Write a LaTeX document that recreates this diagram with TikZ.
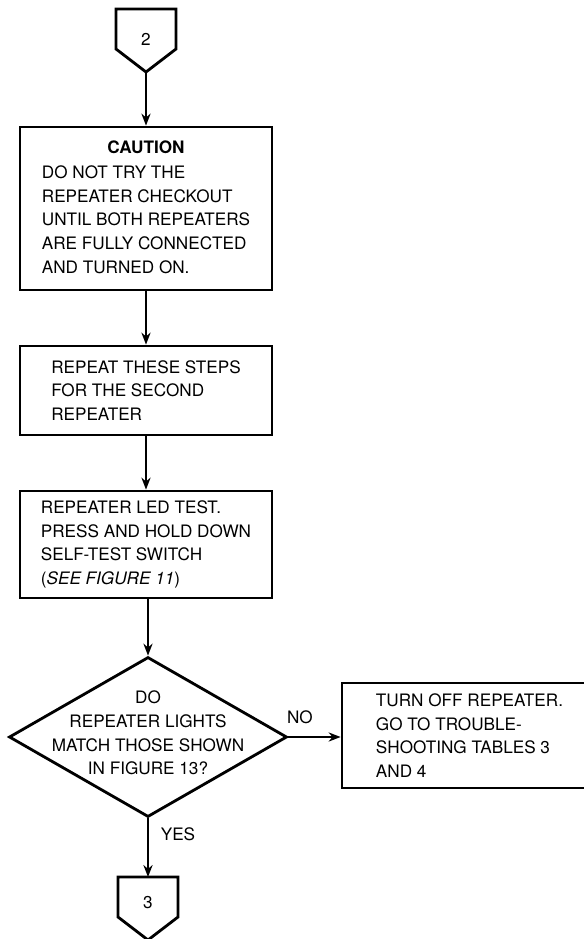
\documentclass[tikz,border=0pt]{standalone}
\usepackage{fontspec}
\setmainfont{TeX Gyre Heros}
\usetikzlibrary{arrows.meta,shapes.geometric}

\begin{document}
\begin{tikzpicture}[
            every node/.style={font=\fontsize{12.2}{16.85}\selectfont},
            box/.style={draw, line width=2pt, minimum width=6.3cm,
                    align=left, inner sep=0pt},
            decision/.style={draw, diamond, line width=2pt, minimum width=6.95cm,
                    minimum height=4cm, inner sep=0pt},
            conn/.style={line width=2pt, line join=miter},
            flow/.style={-{Stealth[length=3mm,width=2.3mm]}, line width=1.2pt},
            lab/.style={align=center, inner sep=0pt}
        ]
        \def\cx{3.65}
        \def\dx{3.7}
        \useasboundingbox (0,0) rectangle (14.575,-23.475);

        % off-page connector in
        \node[lab] (start) at (\cx,-0.975) {2};
        \draw[conn] (2.9,-0.225) -- (2.9,-1.225) -- (\cx,-1.8) -- (4.4,-1.225) -- (4.4,-0.225) -- cycle;
        \coordinate (startend) at (\cx,-1.8);

        \node[box, minimum height=4.075cm] (caution) at (\cx,-5.2125) {%
            \begin{tabular}{@{}l@{}}
                \multicolumn{1}{@{}c@{}}{\bfseries CAUTION}\\[1pt]
                DO NOT TRY THE\\
                REPEATER CHECKOUT\\
                UNTIL BOTH REPEATERS\\
                ARE FULLY CONNECTED\\
                AND TURNED ON.
            \end{tabular}};
        \node[box, minimum height=2.225cm] (again) at (\cx,-9.7625)
            {REPEAT THESE STEPS\\FOR THE SECOND\\REPEATER};
        \node[box, minimum height=2.675cm] (ledtest) at (\cx,-13.6125)
            {REPEATER LED TEST.\\PRESS AND HOLD DOWN\\SELF-TEST SWITCH\\(\textit{SEE FIGURE 11})};

        \node[decision] (match) at (\dx,-18.425) {};
        \node[lab] (matchtext) at (\dx,-18.325)
            {DO\\REPEATER LIGHTS\\MATCH THOSE SHOWN\\IN FIGURE 13?};
        \node[box, minimum width=6.375cm, minimum height=2.625cm] (turnoff) at (11.7375,-18.3875)
            {TURN OFF REPEATER.\\GO TO TROUBLE-\\SHOOTING TABLES 3\\AND 4};

        % off-page connector out
        \node[lab] (next) at (\dx,-22.575) {3};
        \draw[conn] (2.95,-21.925) -- (2.95,-22.925) -- (\dx,-23.5) -- (4.45,-22.925) -- (4.45,-21.925) -- cycle;
        \coordinate (nexttop) at (\dx,-21.925);

        \draw[flow] (startend) -- (caution);
        \draw[flow] (caution) -- (again);
        \draw[flow] (again) -- (ledtest);
        \draw[flow] (ledtest.south -| match.north) -- (match.north);
        \draw[flow] (match.east) -- node[pos=0.22, above=0.3cm, lab] {NO} (turnoff.west |- match.east);
        \draw[flow] (match.south) -- node[pos=0.27, right=0.3cm, lab] {YES} (nexttop);
    \end{tikzpicture}
\end{document}
